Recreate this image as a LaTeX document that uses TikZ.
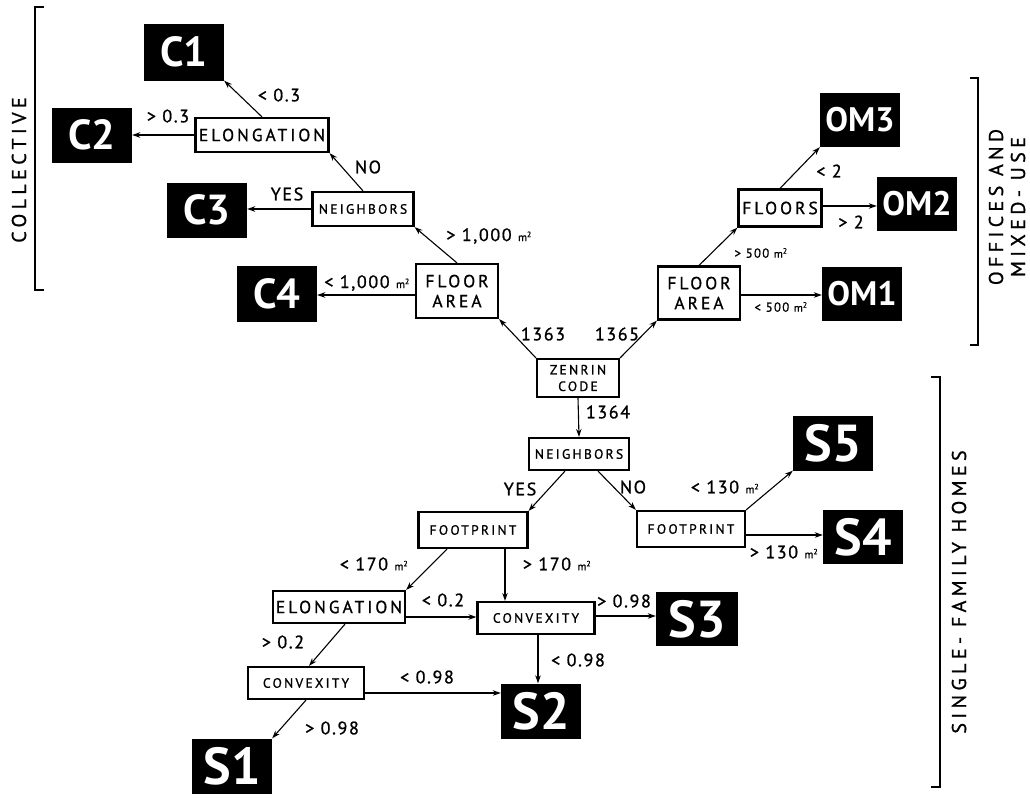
\documentclass[tikz,border=0pt]{standalone}
\usepackage{fontspec}
\setmainfont{PT Sans}
\newfontfamily\boxf[LetterSpace=17,FakeBold=1]{PT Sans}
\newfontfamily\labf[LetterSpace=9,FakeBold=1]{PT Sans}
\newfontfamily\sidef[LetterSpace=22,FakeBold=1]{PT Sans}
\newfontfamily\leaffnt{PT Sans Bold}
\usetikzlibrary{arrows.meta,calc}
\newcommand{\msq}{{\fontsize{11}{11}\selectfont m\textsuperscript{2}}}
\begin{document}
\begin{tikzpicture}[x=1pt,y=-1pt,
  q/.style={draw, line width=2.2pt, inner sep=0pt, align=center, font=\boxf\fontsize{17.5}{20}\selectfont},
  qs/.style={q, font=\boxf\fontsize{13.5}{16.5}\selectfont},
  leaf/.style={fill=black, text=white, inner sep=0pt, minimum width=80pt, minimum height=55pt},
  cl/.style={leaf, font=\leaffnt\fontsize{42}{42}\selectfont},
  ol/.style={leaf, font=\leaffnt\fontsize{34}{34}\selectfont},
  sl/.style={leaf, font=\leaffnt\fontsize{52}{52}\selectfont},
  lab/.style={inner sep=0pt, font=\labf\fontsize{18}{20}\selectfont},
  labs/.style={inner sep=0pt, font=\labf\fontsize{13}{15}\selectfont},
  arr/.style={-{Stealth[length=8pt,width=5.5pt]}, line width=1.1pt},
  brk/.style={line width=1.5pt},
  side/.style={rotate=90, align=center, inner sep=0pt, font=\sidef\fontsize{20}{22}\selectfont}]
\useasboundingbox (0,0) rectangle (1030,801);

% leaves
\node[cl, minimum height=57pt] (c1) at (184,52) {C1};
\node[cl] (c2) at (92,135) {C2};
\node[cl] (c3) at (207,210) {C3};
\node[cl, minimum height=56pt] (c4) at (277,294) {C4};
\node[ol, minimum height=54pt] (om3) at (860,120) {OM3};
\node[ol, minimum height=54pt] (om2) at (917,204) {OM2};
\node[ol, minimum height=54pt] (om1) at (862,294) {OM1};
\node[sl] (s5) at (833,443) {S5};
\node[sl, minimum height=54pt] (s4) at (863,537) {S4};
\node[sl, minimum width=82pt, minimum height=54pt] (s3) at (697,619) {S3};
\node[sl] (s2) at (541,711) {S2};
\node[sl] (s1) at (232,766) {S1};

% question boxes
\node[q, minimum width=133pt, minimum height=34pt] (elt) at (262,135) {ELONGATION};
\node[qs, minimum width=101pt, minimum height=34pt] (nbt) at (363,209) {NEIGHBORS};
\node[q, minimum width=82pt, minimum height=54pt] (fal) at (457,291) {FLOOR\\AREA};
\node[qs, minimum width=82pt, minimum height=38pt] (zen) at (578,378) {ZENRIN\\CODE};
\node[q, minimum width=82pt, minimum height=53pt] (far) at (699,293) {FLOOR\\AREA};
\node[q, minimum width=83pt, minimum height=37pt] (fl) at (780,208) {FLOORS};
\node[qs, minimum width=100pt, minimum height=32pt] (nbb) at (579,454) {NEIGHBORS};
\node[qs, minimum width=109pt, minimum height=36pt] (fpl) at (473,530) {FOOTPRINT};
\node[qs, minimum width=108pt, minimum height=36pt] (fpr) at (691,529) {FOOTPRINT};
\node[q, minimum width=132pt, minimum height=32pt] (elb) at (339,607) {ELONGATION};
\node[qs, minimum width=117pt, minimum height=32pt] (cvm) at (536,618) {CONVEXITY};
\node[qs, minimum width=116pt, minimum height=32pt] (cvl) at (306,683) {CONVEXITY};

% connectors
\draw[arr] (zen.north west) -- (fal.south east);
\draw[arr] (zen.north east) -- (far.south west);
\draw[arr] (zen.south) -- (nbb.north);
\draw[arr] ([yshift=-4pt]fal.west) -- ([yshift=-4pt]fal.west -| c4.east);
\draw[arr] (fal.north) -- (nbt.south east);
\draw[arr] (nbt.west) -- (nbt.west -| c3.east);
\draw[arr] (nbt.north) -- (elt.south east);
\draw[arr] (elt.west) -- (elt.west -| c2.east);
\draw[arr] (elt.north) -- (c1.south east);
\draw[arr] (far.north) -- (fl.south west);
\draw[arr] ([yshift=-2pt]far.east) -- ([yshift=-2pt]far.east -| om1.west);
\draw[arr] (fl.north) -- (om3.south west);
\draw[arr] ([yshift=2pt]fl.east) -- ([yshift=2pt]fl.east -| om2.west);
\draw[arr] ([xshift=-14pt]nbb.south) -- (fpl.north east);
\draw[arr] ([xshift=19pt]nbb.south) -- (fpr.north west);
\draw[arr] (fpr.north east) -- (s5.south west);
\draw[arr] ([yshift=-6pt]fpr.east) -- ([yshift=-6pt]fpr.east -| s4.west);
\draw[arr] ([xshift=-26pt]fpl.south) -- (elb.north east);
\draw[arr] ([xshift=32pt]fpl.south) -- ([xshift=32pt]fpl.south |- cvm.north);
\draw[arr] ([yshift=-10pt]elb.east) -- ([yshift=-10pt]elb.east -| cvm.west);
\draw[arr] ([yshift=2pt]cvm.east) -- ([yshift=2pt]cvm.east -| s3.west);
\draw[arr] ([xshift=2pt]cvm.south) -- ([xshift=2pt]cvm.south |- s2.north);
\draw[arr] ([xshift=6pt]elb.south) -- ([xshift=3pt]cvl.north);
\draw[arr] ([yshift=-10pt]cvl.east) -- ([yshift=-10pt]cvl.east -| s2.west);
\draw[arr] (cvl.south) -- (s1.north east);

% labels
\node[lab] (l1363) at (543,334) {1363};
\node[lab] (l1365) at (617,334) {1365};
\node[lab] (l1364) at (608,412) {1364};
\node[lab] (lc4) at (367,283) {< 1,000 \msq};
\node[lab] (lnb) at (489,236) {> 1,000 \msq};
\node[lab] (lyes1) at (287,194) {YES};
\node[lab] (lno1) at (368,167) {NO};
\node[lab] (lc2) at (168,116) {> 0.3};
\node[lab] (lc1) at (279,95) {< 0.3};
\node[labs] (l500a) at (761,253) {> 500 \msq};
\node[labs] (l500b) at (781,307) {< 500 \msq};
\node[lab] (l2a) at (829,171) {< 2};
\node[lab] (l2b) at (851,222) {> 2};
\node[lab] (lyes2) at (520,489) {YES};
\node[lab] (lno2) at (633,487) {NO};
\node[lab] (l130a) at (725,487) {< 130 \msq};
\node[lab] (l130b) at (784,552) {> 130 \msq};
\node[lab] (l170a) at (374,564) {< 170 \msq};
\node[lab] (l170b) at (557,564) {> 170 \msq};
\node[lab] (l02a) at (443,600) {< 0.2};
\node[lab] (l02b) at (283,642) {> 0.2};
\node[lab] (l98a) at (624,601) {> 0.98};
\node[lab] (l98b) at (578,660) {< 0.98};
\node[lab] (l98c) at (427,677) {< 0.98};
\node[lab] (l98d) at (332,728) {> 0.98};

% brackets
\draw[brk] (44,7) -- (35,7) -- (35,290) -- (44,290);
\draw[brk] (970,78) -- (978,78) -- (978,345) -- (970,345);
\draw[brk] (931,377) -- (940,377) -- (940,787) -- (931,787);
\node[side] (tcol) at (19,170) {COLLECTIVE};
\node[side] (toff) at (1007,207) {OFFICES AND\\MIXED- USE};
\node[side] (tsfh) at (959,592) {SINGLE- FAMILY HOMES};
\end{tikzpicture}
\end{document}
